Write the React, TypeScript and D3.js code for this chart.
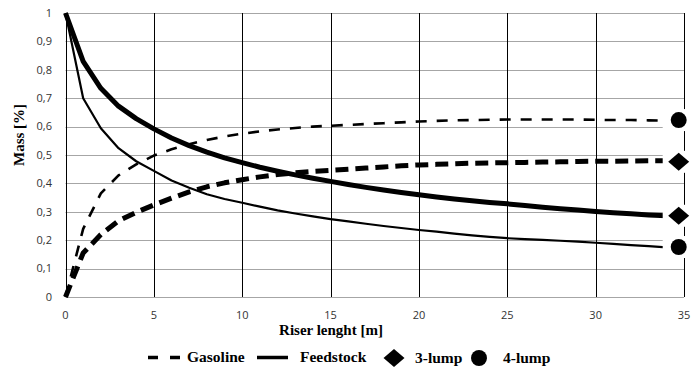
import React, { useEffect, useRef } from "react";
import * as d3 from "d3";

// riser length [m]
const riserLength = [0, 1, 2, 3, 4, 5, 6, 7, 8, 9, 10, 11, 12, 13, 14, 15, 16, 17, 18, 19, 20, 21, 22, 23, 24, 25, 26, 27, 28, 29, 30, 31, 32, 33, 34];

// 4-lump model (thin lines)
const gasoline4 = [0, 0.24, 0.365, 0.428, 0.467, 0.498, 0.52, 0.538, 0.553, 0.565, 0.575, 0.583, 0.59, 0.595, 0.6, 0.603, 0.606, 0.609, 0.612, 0.615, 0.618, 0.62, 0.622, 0.623, 0.624, 0.625, 0.625, 0.625, 0.625, 0.625, 0.624, 0.623, 0.623, 0.622, 0.621];
const feedstock4 = [1, 0.7, 0.594, 0.524, 0.478, 0.444, 0.41, 0.385, 0.362, 0.345, 0.332, 0.318, 0.305, 0.294, 0.284, 0.274, 0.266, 0.258, 0.25, 0.243, 0.236, 0.23, 0.223, 0.217, 0.212, 0.207, 0.204, 0.201, 0.198, 0.195, 0.191, 0.187, 0.183, 0.179, 0.175];

// 3-lump model (thick lines)
const gasoline3 = [0, 0.155, 0.22, 0.268, 0.298, 0.324, 0.348, 0.37, 0.388, 0.402, 0.413, 0.423, 0.431, 0.437, 0.442, 0.446, 0.45, 0.454, 0.458, 0.462, 0.465, 0.467, 0.469, 0.471, 0.472, 0.473, 0.474, 0.475, 0.476, 0.477, 0.478, 0.478, 0.479, 0.48, 0.48];
const feedstock3 = [1, 0.83, 0.735, 0.672, 0.628, 0.592, 0.56, 0.533, 0.51, 0.49, 0.473, 0.457, 0.443, 0.43, 0.418, 0.407, 0.396, 0.386, 0.377, 0.368, 0.36, 0.352, 0.345, 0.339, 0.333, 0.328, 0.322, 0.316, 0.311, 0.306, 0.301, 0.297, 0.293, 0.289, 0.286];

// end markers
const markerX = 34.7;
const lump3Marks = [0.476, 0.286];
const lump4Marks = [0.623, 0.176];

const xTicks = [0, 5, 10, 15, 20, 25, 30, 35];
const yTicks = [0, 0.1, 0.2, 0.3, 0.4, 0.5, 0.6, 0.7, 0.8, 0.9, 1];

const serif = "'Liberation Serif', 'Times New Roman', serif";
const sans = "'Open Sans', 'DejaVu Sans', sans-serif";

const App = () => {
  const ref = useRef<SVGSVGElement>(null);

  useEffect(() => {
    const svg = d3.select(ref.current);
    svg.selectAll("*").remove();

    const W = 693;
    const H = 370;
    const margin = { top: 13, right: 9, bottom: 73, left: 65.5 };

    const x = d3.scaleLinear().domain([0, 35]).range([margin.left, W - margin.right]);
    const y = d3.scaleLinear().domain([0, 1]).range([H - margin.bottom, margin.top]);

    svg.append("rect").attr("width", W).attr("height", H).attr("fill", "#fff");

    // horizontal grid
    svg
      .append("g")
      .selectAll("line")
      .data(yTicks)
      .enter()
      .append("line")
      .attr("x1", x(0))
      .attr("x2", x(35))
      .attr("y1", (d) => Math.round(y(d)) + 0.5)
      .attr("y2", (d) => Math.round(y(d)) + 0.5)
      .attr("stroke", "#a6a6a6")
      .attr("stroke-width", 1.2);

    // vertical grid (black)
    svg
      .append("g")
      .selectAll("line")
      .data(xTicks)
      .enter()
      .append("line")
      .attr("x1", (d) => Math.round(x(d)) + 0.5)
      .attr("x2", (d) => Math.round(x(d)) + 0.5)
      .attr("y1", y(1))
      .attr("y2", y(0))
      .attr("stroke", "#000")
      .attr("stroke-width", 1);

    // tick labels
    svg
      .append("g")
      .selectAll("text")
      .data(yTicks)
      .enter()
      .append("text")
      .attr("x", 52)
      .attr("y", (d) => y(d))
      .attr("dy", "0.35em")
      .attr("text-anchor", "end")
      .style("font-family", sans)
      .style("font-size", "11px")
      .attr("fill", "#333")
      .text((d) => d3.format("~g")(d).replace(".", ","));

    svg
      .append("g")
      .selectAll("text")
      .data(xTicks)
      .enter()
      .append("text")
      .attr("x", (d) => x(d))
      .attr("y", 319)
      .attr("text-anchor", "middle")
      .style("font-family", sans)
      .style("font-size", "11px")
      .attr("fill", "#333")
      .text((d) => d);

    // axis titles
    svg
      .append("text")
      .attr("transform", "translate(24,135) rotate(-90)")
      .attr("text-anchor", "middle")
      .style("font-family", serif)
      .style("font-size", "15px")
      .style("font-weight", "bold")
      .text("Mass [%]");

    svg
      .append("text")
      .attr("x", 331)
      .attr("y", 335)
      .attr("text-anchor", "middle")
      .style("font-family", serif)
      .style("font-size", "15px")
      .style("font-weight", "bold")
      .text("Riser lenght [m]");

    const line = (vals: number[]) =>
      d3
        .line<number>()
        .x((_, i) => x(riserLength[i]))
        .y((d) => y(d))(vals);

    const series = [
      { vals: feedstock4, width: 2.2, dash: null },
      { vals: gasoline4, width: 2.6, dash: "11,10" },
      { vals: feedstock3, width: 5, dash: null },
      { vals: gasoline3, width: 5, dash: "13,7" },
    ];

    svg
      .append("g")
      .selectAll("path")
      .data(series)
      .enter()
      .append("path")
      .attr("d", (d) => line(d.vals))
      .attr("fill", "none")
      .attr("stroke", "#000")
      .attr("stroke-width", (d) => d.width)
      .attr("stroke-dasharray", (d) => d.dash)
      .attr("stroke-linejoin", "round");

    // markers with white backing
    const marks = [
      ...lump3Marks.map((v) => ({ v, kind: "diamond" })),
      ...lump4Marks.map((v) => ({ v, kind: "circle" })),
    ];
    const mg = svg.append("g");
    mg.selectAll("rect")
      .data(marks)
      .enter()
      .append("rect")
      .attr("x", x(markerX) - 16)
      .attr("y", (d) => y(d.v) - 11)
      .attr("width", 32)
      .attr("height", 22)
      .attr("fill", "#fff");
    mg.selectAll("path")
      .data(marks)
      .enter()
      .append("path")
      .attr("transform", (d) => `translate(${x(markerX)},${y(d.v)})`)
      .attr("d", (d) => (d.kind === "circle" ? d3.symbol(d3.symbolCircle, 200)() : "M0,-9L10.5,0L0,9L-10.5,0Z"))
      .attr("fill", "#000");

    // legend
    const lg = svg.append("g").style("font-family", serif).style("font-size", "15.5px").style("font-weight", "bold");
    lg.append("line").attr("x1", 148).attr("x2", 181).attr("y1", 357.5).attr("y2", 357.5).attr("stroke", "#000").attr("stroke-width", 3.5).attr("stroke-dasharray", "10,12");
    lg.append("text").attr("x", 187).attr("y", 362).text("Gasoline");
    lg.append("line").attr("x1", 257).attr("x2", 288).attr("y1", 357.5).attr("y2", 357.5).attr("stroke", "#000").attr("stroke-width", 3.5);
    lg.append("text").attr("x", 300).attr("y", 362).text("Feedstock");
    lg.append("path").attr("transform", "translate(394,358)").attr("d", "M0,-9L10.5,0L0,9L-10.5,0Z").attr("fill", "#000");
    lg.append("text").attr("x", 415).attr("y", 363).text("3-lump");
    lg.append("path").attr("transform", "translate(479,358)").attr("d", d3.symbol(d3.symbolCircle, 200)()).attr("fill", "#000");
    lg.append("text").attr("x", 503).attr("y", 363).text("4-lump");
  }, []);

  return <svg ref={ref} width={693} height={370} style={{ position: "absolute", left: 0, top: 0 }}></svg>;
};

export default App;
